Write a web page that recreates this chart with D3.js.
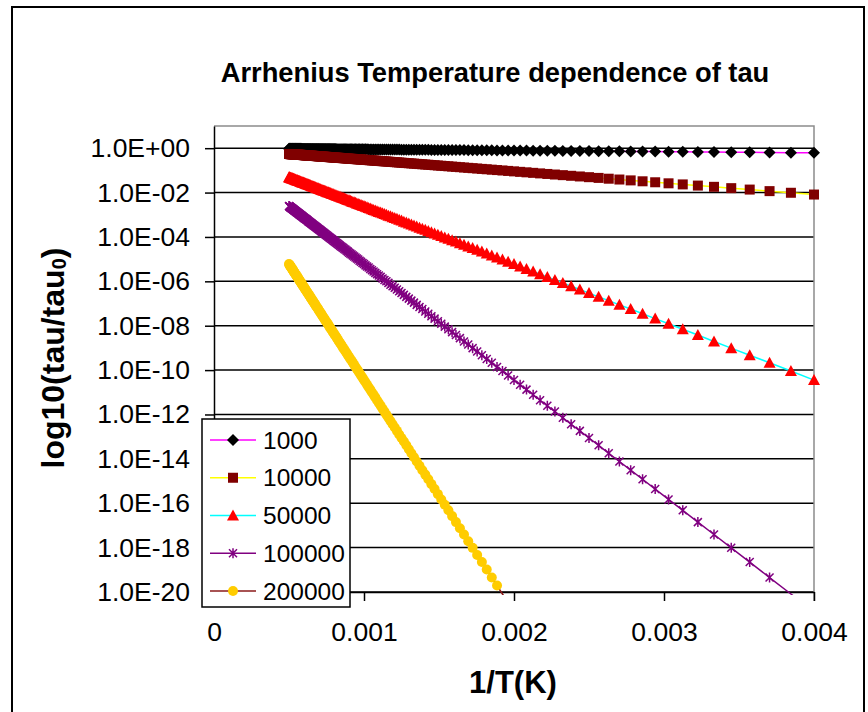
<!DOCTYPE html>
<html>
<head>
<meta charset="utf-8">
<script src="https://cdn.jsdelivr.net/npm/d3@7"></script>
<style>
  body { margin: 0; background: #fff; }
  svg { display: block; font-family: "Liberation Sans", Arial, sans-serif; }
</style>
</head>
<body>
<div class="graph"></div>
<script>
/*---------- DATA ----------*/

// x values: 1/T in 1/K (T = 2000 K down to 250 K)
const invT = [
  0.00050000, 0.00050251, 0.00050505, 0.00050761, 0.00051020, 0.00051282, 0.00051546, 0.00051813, 0.00052083, 0.00052356,
  0.00052632, 0.00052910, 0.00053191, 0.00053476, 0.00053763, 0.00054054, 0.00054348, 0.00054645, 0.00054945, 0.00055249,
  0.00055556, 0.00055866, 0.00056180, 0.00056497, 0.00056818, 0.00057143, 0.00057471, 0.00057803, 0.00058140, 0.00058480,
  0.00058824, 0.00059172, 0.00059524, 0.00059880, 0.00060241, 0.00060606, 0.00060976, 0.00061350, 0.00061728, 0.00062112,
  0.00062500, 0.00062893, 0.00063291, 0.00063694, 0.00064103, 0.00064516, 0.00064935, 0.00065359, 0.00065789, 0.00066225,
  0.00066667, 0.00067114, 0.00067568, 0.00068027, 0.00068493, 0.00068966, 0.00069444, 0.00069930, 0.00070423, 0.00070922,
  0.00071429, 0.00071942, 0.00072464, 0.00072993, 0.00073529, 0.00074074, 0.00074627, 0.00075188, 0.00075758, 0.00076336,
  0.00076923, 0.00077519, 0.00078125, 0.00078740, 0.00079365, 0.00080000, 0.00080645, 0.00081301, 0.00081967, 0.00082645,
  0.00083333, 0.00084034, 0.00084746, 0.00085470, 0.00086207, 0.00086957, 0.00087719, 0.00088496, 0.00089286, 0.00090090,
  0.00090909, 0.00091743, 0.00092593, 0.00093458, 0.00094340, 0.00095238, 0.00096154, 0.00097087, 0.00098039, 0.00099010,
  0.00100000, 0.00101010, 0.00102041, 0.00103093, 0.00104167, 0.00105263, 0.00106383, 0.00107527, 0.00108696, 0.00109890,
  0.00111111, 0.00112360, 0.00113636, 0.00114943, 0.00116279, 0.00117647, 0.00119048, 0.00120482, 0.00121951, 0.00123457,
  0.00125000, 0.00126582, 0.00128205, 0.00129870, 0.00131579, 0.00133333, 0.00135135, 0.00136986, 0.00138889, 0.00140845,
  0.00142857, 0.00144928, 0.00147059, 0.00149254, 0.00151515, 0.00153846, 0.00156250, 0.00158730, 0.00161290, 0.00163934,
  0.00166667, 0.00169492, 0.00172414, 0.00175439, 0.00178571, 0.00181818, 0.00185185, 0.00188679, 0.00192308, 0.00196078,
  0.00200000, 0.00204082, 0.00208333, 0.00212766, 0.00217391, 0.00222222, 0.00227273, 0.00232558, 0.00238095, 0.00243902,
  0.00250000, 0.00256410, 0.00263158, 0.00270270, 0.00277778, 0.00285714, 0.00294118, 0.00303030, 0.00312500, 0.00322581,
  0.00333333, 0.00344828, 0.00357143, 0.00370370, 0.00384615, 0.00400000
];

// series names (activation energy)
const seriesNames = ["1000", "10000", "50000", "100000", "200000"];

// log10(tau/tau0) for each series, same order as invT
const log_1000 = [
  -0.026, -0.026, -0.026, -0.027, -0.027, -0.027, -0.027, -0.027, -0.027, -0.027,
  -0.027, -0.028, -0.028, -0.028, -0.028, -0.028, -0.028, -0.029, -0.029, -0.029,
  -0.029, -0.029, -0.029, -0.030, -0.030, -0.030, -0.030, -0.030, -0.030, -0.031,
  -0.031, -0.031, -0.031, -0.031, -0.031, -0.032, -0.032, -0.032, -0.032, -0.032,
  -0.033, -0.033, -0.033, -0.033, -0.033, -0.034, -0.034, -0.034, -0.034, -0.035,
  -0.035, -0.035, -0.035, -0.036, -0.036, -0.036, -0.036, -0.037, -0.037, -0.037,
  -0.037, -0.038, -0.038, -0.038, -0.038, -0.039, -0.039, -0.039, -0.040, -0.040,
  -0.040, -0.040, -0.041, -0.041, -0.041, -0.042, -0.042, -0.042, -0.043, -0.043,
  -0.044, -0.044, -0.044, -0.045, -0.045, -0.045, -0.046, -0.046, -0.047, -0.047,
  -0.047, -0.048, -0.048, -0.049, -0.049, -0.050, -0.050, -0.051, -0.051, -0.052,
  -0.052, -0.053, -0.053, -0.054, -0.054, -0.055, -0.056, -0.056, -0.057, -0.057,
  -0.058, -0.059, -0.059, -0.060, -0.061, -0.061, -0.062, -0.063, -0.064, -0.064,
  -0.065, -0.066, -0.067, -0.068, -0.069, -0.070, -0.071, -0.072, -0.073, -0.074,
  -0.075, -0.076, -0.077, -0.078, -0.079, -0.080, -0.082, -0.083, -0.084, -0.086,
  -0.087, -0.089, -0.090, -0.092, -0.093, -0.095, -0.097, -0.099, -0.100, -0.102,
  -0.104, -0.107, -0.109, -0.111, -0.114, -0.116, -0.119, -0.121, -0.124, -0.127,
  -0.131, -0.134, -0.137, -0.141, -0.145, -0.149, -0.154, -0.158, -0.163, -0.168,
  -0.174, -0.180, -0.187, -0.193, -0.201, -0.209
];

const log_10000 = [
  -0.261, -0.262, -0.264, -0.265, -0.267, -0.268, -0.269, -0.271, -0.272, -0.273,
  -0.275, -0.276, -0.278, -0.279, -0.281, -0.282, -0.284, -0.285, -0.287, -0.289,
  -0.290, -0.292, -0.293, -0.295, -0.297, -0.298, -0.300, -0.302, -0.304, -0.305,
  -0.307, -0.309, -0.311, -0.313, -0.315, -0.317, -0.318, -0.320, -0.322, -0.324,
  -0.326, -0.329, -0.331, -0.333, -0.335, -0.337, -0.339, -0.341, -0.344, -0.346,
  -0.348, -0.351, -0.353, -0.355, -0.358, -0.360, -0.363, -0.365, -0.368, -0.370,
  -0.373, -0.376, -0.379, -0.381, -0.384, -0.387, -0.390, -0.393, -0.396, -0.399,
  -0.402, -0.405, -0.408, -0.411, -0.415, -0.418, -0.421, -0.425, -0.428, -0.432,
  -0.435, -0.439, -0.443, -0.446, -0.450, -0.454, -0.458, -0.462, -0.466, -0.471,
  -0.475, -0.479, -0.484, -0.488, -0.493, -0.497, -0.502, -0.507, -0.512, -0.517,
  -0.522, -0.528, -0.533, -0.538, -0.544, -0.550, -0.556, -0.562, -0.568, -0.574,
  -0.580, -0.587, -0.594, -0.600, -0.607, -0.615, -0.622, -0.629, -0.637, -0.645,
  -0.653, -0.661, -0.670, -0.678, -0.687, -0.696, -0.706, -0.716, -0.725, -0.736,
  -0.746, -0.757, -0.768, -0.780, -0.791, -0.804, -0.816, -0.829, -0.842, -0.856,
  -0.871, -0.885, -0.901, -0.916, -0.933, -0.950, -0.967, -0.986, -1.004, -1.024,
  -1.045, -1.066, -1.088, -1.111, -1.136, -1.161, -1.187, -1.215, -1.244, -1.274,
  -1.306, -1.339, -1.375, -1.412, -1.451, -1.492, -1.536, -1.583, -1.632, -1.685,
  -1.741, -1.801, -1.865, -1.935, -2.009, -2.089
];

const log_50000 = [
  -1.31, -1.31, -1.32, -1.33, -1.33, -1.34, -1.35, -1.35, -1.36, -1.37,
  -1.37, -1.38, -1.39, -1.40, -1.40, -1.41, -1.42, -1.43, -1.44, -1.44,
  -1.45, -1.46, -1.47, -1.48, -1.48, -1.49, -1.50, -1.51, -1.52, -1.53,
  -1.54, -1.55, -1.55, -1.56, -1.57, -1.58, -1.59, -1.60, -1.61, -1.62,
  -1.63, -1.64, -1.65, -1.66, -1.67, -1.68, -1.70, -1.71, -1.72, -1.73,
  -1.74, -1.75, -1.76, -1.78, -1.79, -1.80, -1.81, -1.83, -1.84, -1.85,
  -1.87, -1.88, -1.89, -1.91, -1.92, -1.93, -1.95, -1.96, -1.98, -1.99,
  -2.01, -2.02, -2.04, -2.06, -2.07, -2.09, -2.11, -2.12, -2.14, -2.16,
  -2.18, -2.19, -2.21, -2.23, -2.25, -2.27, -2.29, -2.31, -2.33, -2.35,
  -2.37, -2.40, -2.42, -2.44, -2.46, -2.49, -2.51, -2.54, -2.56, -2.59,
  -2.61, -2.64, -2.66, -2.69, -2.72, -2.75, -2.78, -2.81, -2.84, -2.87,
  -2.90, -2.93, -2.97, -3.00, -3.04, -3.07, -3.11, -3.15, -3.18, -3.22,
  -3.26, -3.31, -3.35, -3.39, -3.44, -3.48, -3.53, -3.58, -3.63, -3.68,
  -3.73, -3.79, -3.84, -3.90, -3.96, -4.02, -4.08, -4.15, -4.21, -4.28,
  -4.35, -4.43, -4.50, -4.58, -4.66, -4.75, -4.84, -4.93, -5.02, -5.12,
  -5.22, -5.33, -5.44, -5.56, -5.68, -5.80, -5.94, -6.07, -6.22, -6.37,
  -6.53, -6.70, -6.87, -7.06, -7.25, -7.46, -7.68, -7.91, -8.16, -8.42,
  -8.71, -9.01, -9.33, -9.67, -10.04, -10.45
];

const log_100000 = [
  -2.61, -2.62, -2.64, -2.65, -2.67, -2.68, -2.69, -2.71, -2.72, -2.73,
  -2.75, -2.76, -2.78, -2.79, -2.81, -2.82, -2.84, -2.85, -2.87, -2.89,
  -2.90, -2.92, -2.93, -2.95, -2.97, -2.98, -3.00, -3.02, -3.04, -3.05,
  -3.07, -3.09, -3.11, -3.13, -3.15, -3.17, -3.18, -3.20, -3.22, -3.24,
  -3.26, -3.29, -3.31, -3.33, -3.35, -3.37, -3.39, -3.41, -3.44, -3.46,
  -3.48, -3.51, -3.53, -3.55, -3.58, -3.60, -3.63, -3.65, -3.68, -3.70,
  -3.73, -3.76, -3.79, -3.81, -3.84, -3.87, -3.90, -3.93, -3.96, -3.99,
  -4.02, -4.05, -4.08, -4.11, -4.15, -4.18, -4.21, -4.25, -4.28, -4.32,
  -4.35, -4.39, -4.43, -4.46, -4.50, -4.54, -4.58, -4.62, -4.66, -4.71,
  -4.75, -4.79, -4.84, -4.88, -4.93, -4.97, -5.02, -5.07, -5.12, -5.17,
  -5.22, -5.28, -5.33, -5.38, -5.44, -5.50, -5.56, -5.62, -5.68, -5.74,
  -5.80, -5.87, -5.94, -6.00, -6.07, -6.15, -6.22, -6.29, -6.37, -6.45,
  -6.53, -6.61, -6.70, -6.78, -6.87, -6.96, -7.06, -7.16, -7.25, -7.36,
  -7.46, -7.57, -7.68, -7.80, -7.91, -8.04, -8.16, -8.29, -8.42, -8.56,
  -8.71, -8.85, -9.01, -9.16, -9.33, -9.50, -9.67, -9.86, -10.04, -10.24,
  -10.45, -10.66, -10.88, -11.11, -11.36, -11.61, -11.87, -12.15, -12.44, -12.74,
  -13.06, -13.39, -13.75, -14.12, -14.51, -14.92, -15.36, -15.83, -16.32, -16.85,
  -17.41, -18.01, -18.65, -19.35, -20.09, -20.89
];

const log_200000 = [
  -5.22, -5.25, -5.28, -5.30, -5.33, -5.36, -5.38, -5.41, -5.44, -5.47,
  -5.50, -5.53, -5.56, -5.59, -5.62, -5.65, -5.68, -5.71, -5.74, -5.77,
  -5.80, -5.84, -5.87, -5.90, -5.94, -5.97, -6.00, -6.04, -6.07, -6.11,
  -6.15, -6.18, -6.22, -6.26, -6.29, -6.33, -6.37, -6.41, -6.45, -6.49,
  -6.53, -6.57, -6.61, -6.65, -6.70, -6.74, -6.78, -6.83, -6.87, -6.92,
  -6.96, -7.01, -7.06, -7.11, -7.16, -7.20, -7.25, -7.31, -7.36, -7.41,
  -7.46, -7.52, -7.57, -7.63, -7.68, -7.74, -7.80, -7.85, -7.91, -7.97,
  -8.04, -8.10, -8.16, -8.23, -8.29, -8.36, -8.42, -8.49, -8.56, -8.63,
  -8.71, -8.78, -8.85, -8.93, -9.01, -9.08, -9.16, -9.24, -9.33, -9.41,
  -9.50, -9.58, -9.67, -9.76, -9.86, -9.95, -10.04, -10.14, -10.24, -10.34,
  -10.45, -10.55, -10.66, -10.77, -10.88, -11.00, -11.11, -11.23, -11.36, -11.48,
  -11.61, -11.74, -11.87, -12.01, -12.15, -12.29, -12.44, -12.59, -12.74, -12.90,
  -13.06, -13.22, -13.39, -13.57, -13.75, -13.93, -14.12, -14.31, -14.51, -14.71,
  -14.92, -15.14, -15.36, -15.59, -15.83, -16.07, -16.32, -16.58, -16.85, -17.13,
  -17.41, -17.71, -18.01, -18.33, -18.65, -18.99, -19.35, -19.71, -20.09, -20.48,
  -20.89, -21.32, -21.76, -22.23, -22.71, -23.21, -23.74, -24.29, -24.87, -25.48,
  -26.12, -26.79, -27.49, -28.23, -29.02, -29.85, -30.73, -31.66, -32.65, -33.70,
  -34.82, -36.02, -37.31, -38.69, -40.18, -41.79
];

// axis ticks
const xTicks = [0, 0.001, 0.002, 0.003, 0.004];
const xTickLabels = ["0", "0.001", "0.002", "0.003", "0.004"];
const yTicks = [1e0, 1e-2, 1e-4, 1e-6, 1e-8, 1e-10, 1e-12, 1e-14, 1e-16, 1e-18, 1e-20];
const yTickLabels = ["1.0E+00", "1.0E-02", "1.0E-04", "1.0E-06", "1.0E-08", "1.0E-10",
                     "1.0E-12", "1.0E-14", "1.0E-16", "1.0E-18", "1.0E-20"];

/*---------- STYLES ----------*/

const lineColors = ["#ff00ff", "#ffff00", "#00ffff", "#800080", "#8b1a1a"];
const markerColors = ["#000000", "#800000", "#ff0000", "#800080", "#ffcc00"];
const markerShapes = ["diamond", "square", "triangle", "star", "circle"];

/*---------- D3 STUFF ----------*/

const SIZE = {X: 868, Y: 712};
const PLOT = {LEFT: 214, RIGHT: 814, TOP: 126, BOTTOM: 592};

const svg = d3.select(".graph").append("svg")
    .attr("width", SIZE.X)
    .attr("height", SIZE.Y);

svg.append("rect")
    .attr("width", SIZE.X).attr("height", SIZE.Y)
    .attr("fill", "#fff");

// chart frame
svg.append("rect")
    .attr("x", 12).attr("y", 7)
    .attr("width", 852).attr("height", 720)
    .attr("fill", "none")
    .attr("stroke", "#000")
    .attr("stroke-width", 2);

// scales
const x = d3.scaleLinear()
    .domain([0, 0.004])
    .range([PLOT.LEFT, PLOT.RIGHT]);

const y = d3.scaleLog()
    .domain([1e-20, 1e1])
    .range([PLOT.BOTTOM, PLOT.TOP]);

// build series table
const logs = [log_1000, log_10000, log_50000, log_100000, log_200000];
const series = seriesNames.map((name, i) => ({
    name: name,
    idx: i,
    values: invT.map((v, j) => ({x: v, y: Math.pow(10, logs[i][j])}))
}));

// gridlines
svg.append("g")
    .selectAll("line")
    .data(yTicks)
    .enter()
    .append("line")
        .attr("x1", PLOT.LEFT).attr("x2", PLOT.RIGHT)
        .attr("y1", d => y(d)).attr("y2", d => y(d))
        .attr("stroke", "#000")
        .attr("stroke-width", 1.5);

// plot area border (top, right)
svg.append("path")
    .attr("d", `M${PLOT.LEFT},${PLOT.TOP}H${PLOT.RIGHT}V${PLOT.BOTTOM + 9}`)
    .attr("fill", "none")
    .attr("stroke", "#8c8c8c")
    .attr("stroke-width", 1.5);

// axes
const xAxis = svg.append("g")
    .attr("transform", `translate(0, ${PLOT.BOTTOM})`)
    .call(d3.axisBottom(x)
        .tickValues(xTicks)
        .tickFormat((d, i) => xTickLabels[i])
        .tickSizeInner(9).tickSizeOuter(0).tickPadding(21));

const yAxis = svg.append("g")
    .attr("transform", `translate(${PLOT.LEFT}, 0)`)
    .call(d3.axisLeft(y)
        .tickValues(yTicks)
        .tickFormat((d, i) => yTickLabels[i])
        .tickSizeInner(9).tickSizeOuter(0).tickPadding(15));

[xAxis, yAxis].forEach(a => {
    a.attr("color", "#000");
    a.selectAll("path, line").attr("stroke-width", 1.5);
    a.selectAll("text")
        .attr("font-family", "Liberation Sans, Arial, sans-serif")
        .attr("font-size", 26.5)
        .attr("fill", "#000");
});

// clip for series lines
svg.append("clipPath").attr("id", "plot-clip")
    .append("rect")
        .attr("x", PLOT.LEFT).attr("y", PLOT.TOP)
        .attr("width", PLOT.RIGHT - PLOT.LEFT + 4)
        .attr("height", PLOT.BOTTOM - PLOT.TOP + 3);

// line generator
const line = d3.line()
    .x(d => x(d.x))
    .y(d => y(d.y));

// marker drawing
function drawMarker(g, shape, color) {
    if (shape === "diamond") {
        g.append("path").attr("d", "M0,-6L6,0L0,6L-6,0Z").attr("fill", color);
    } else if (shape === "square") {
        g.append("rect").attr("x", -5).attr("y", -5).attr("width", 10).attr("height", 10)
            .attr("fill", color);
    } else if (shape === "triangle") {
        g.append("path").attr("d", "M0,-6L6,5L-6,5Z").attr("fill", color);
    } else if (shape === "star") {
        g.append("path").attr("d", "M-4,-4L4,4M-4,4L4,-4M0,-5V5")
            .attr("stroke", color).attr("stroke-width", 1.5).attr("fill", "none");
    } else {
        g.append("circle").attr("r", 5).attr("fill", color);
    }
}

const seriesG = svg.append("g");

series.forEach(s => {
    seriesG.append("path")
        .datum(s.values)
        .attr("clip-path", "url(#plot-clip)")
        .attr("fill", "none")
        .attr("stroke", lineColors[s.idx])
        .attr("stroke-width", 1.5)
        .attr("d", line);

    seriesG.append("g")
        .selectAll("g")
        .data(s.values.filter(d => d.y >= 1e-20 && d.x <= 0.004))
        .enter()
        .append("g")
            .attr("transform", d => `translate(${x(d.x)}, ${y(d.y)})`)
            .each(function() { drawMarker(d3.select(this), markerShapes[s.idx], markerColors[s.idx]); });
});

// title
svg.append("text")
    .attr("x", 495).attr("y", 82)
    .attr("text-anchor", "middle")
    .attr("font-size", 27.3)
    .attr("font-weight", "bold")
    .text("Arrhenius Temperature dependence of tau");

// x axis title
svg.append("text")
    .attr("x", 513).attr("y", 693)
    .attr("text-anchor", "middle")
    .attr("font-size", 31)
    .attr("font-weight", "bold")
    .text("1/T(K)");

// y axis title
const yTitle = svg.append("text")
    .attr("transform", "translate(64, 358) rotate(-90)")
    .attr("text-anchor", "middle")
    .attr("font-size", 32)
    .attr("font-weight", "bold");
yTitle.append("tspan").text("log10(tau/tau");
yTitle.append("tspan").attr("font-size", 20).attr("dy", 2).text("0");
yTitle.append("tspan").attr("dy", -2).text(")");

// legend
const legend = svg.append("g");
legend.append("rect")
    .attr("x", 202).attr("y", 419)
    .attr("width", 148).attr("height", 188)
    .attr("fill", "#fff")
    .attr("stroke", "#000")
    .attr("stroke-width", 1.5);

series.forEach(s => {
    const ly = 440 + s.idx * 37.75;
    legend.append("line")
        .attr("x1", 210).attr("x2", 256)
        .attr("y1", ly).attr("y2", ly)
        .attr("stroke", lineColors[s.idx])
        .attr("stroke-width", 1.5);
    const m = legend.append("g").attr("transform", `translate(233, ${ly})`);
    drawMarker(m, markerShapes[s.idx], markerColors[s.idx]);
    legend.append("text")
        .attr("x", 263).attr("y", ly)
        .attr("dy", "0.35em")
        .attr("font-size", 24.5)
        .text(s.name);
});
</script>
</body>
</html>
